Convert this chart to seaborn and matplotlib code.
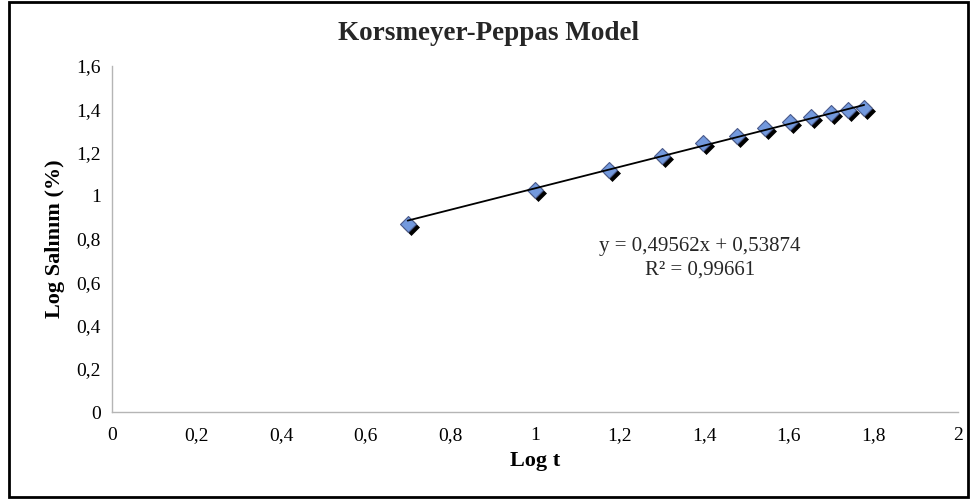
import numpy as np
import pandas as pd
import matplotlib
matplotlib.use("Agg")
import matplotlib.pyplot as plt
import matplotlib.transforms as mtransforms
from matplotlib.patches import Rectangle
from matplotlib.ticker import FuncFormatter, MultipleLocator
import seaborn as sns

# Korsmeyer-Peppas data: log of time vs log of cumulative release
log_t = [0.699, 1.000, 1.176, 1.301, 1.398, 1.477, 1.544, 1.602, 1.653, 1.699, 1.740, 1.778]
log_release = [0.868, 1.028, 1.120, 1.185, 1.243, 1.278, 1.313, 1.342, 1.362, 1.381, 1.395, 1.405]

# Linear trendline coefficients and fit quality
slope = 0.49562
intercept = 0.53874
r_squared = 0.99661

title = "Korsmeyer-Peppas Model"
x_label = "Log t"
y_label = "Log Salınım (%)"

df = pd.DataFrame({"log_t": log_t, "log_release": log_release})

sns.set_theme(style="white")
plt.rcParams["font.family"] = ["Liberation Serif", "DejaVu Serif"]

fig = plt.figure(figsize=(9.77, 4.99), dpi=100)
ax = fig.add_axes([0.1146, 0.1743, 0.866, 0.6934])

# drop shadow under each marker
shadow = mtransforms.offset_copy(ax.transData, fig=fig, x=3, y=-3, units="dots")
sns.scatterplot(data=df, x="log_t", y="log_release", ax=ax, marker="D", s=66,
                color="black", edgecolor="black", linewidth=0.5,
                transform=shadow, zorder=2, legend=False)
sns.scatterplot(data=df, x="log_t", y="log_release", ax=ax, marker="D", s=66,
                color="#7399dd", edgecolor="#4a5a8a", linewidth=0.8,
                zorder=3, legend=False)

# trendline from the stated regression equation
xs = np.array([min(log_t), max(log_t)])
ax.plot(xs, slope * xs + intercept, color="black", lw=1.3, zorder=4)

ax.text(1.39, 0.765,
        "y = {}x + {}".format(f"{slope:.5f}".replace(".", ","),
                               f"{intercept:.5f}".replace(".", ",")),
        ha="center", va="center", fontsize=15)
ax.text(1.39, 0.655, "R² = {}".format(f"{r_squared:.5f}".replace(".", ",")),
        ha="center", va="center", fontsize=15)

ax.set_xlim(0, 2)
ax.set_ylim(0, 1.6)
ax.xaxis.set_major_locator(MultipleLocator(0.2))
ax.yaxis.set_major_locator(MultipleLocator(0.2))
comma = FuncFormatter(lambda v, p: f"{v:.1f}".rstrip("0").rstrip(".").replace(".", ",") if abs(v) > 1e-9 else "0")
ax.xaxis.set_major_formatter(comma)
ax.yaxis.set_major_formatter(comma)
ax.tick_params(axis="x", length=0, labelsize=14, colors="black", pad=11)
ax.tick_params(axis="y", length=0, labelsize=14, colors="black", pad=8)

for side in ("top", "right"):
    ax.spines[side].set_visible(False)
for side in ("left", "bottom"):
    ax.spines[side].set_color("#b5b5b5")
    ax.spines[side].set_linewidth(1)

ax.set_xlabel(x_label, fontsize=16, fontweight="bold", labelpad=5, color="black")
ax.set_ylabel(y_label, fontsize=16, fontweight="bold", labelpad=8, color="black")
fig.text(0.50, 0.933, title, ha="center", va="center", fontsize=19.5, fontweight="bold")

# chart border
fig.patches.append(Rectangle((0.009, 0.005), 0.982, 0.99, transform=fig.transFigure,
                             fill=False, edgecolor="black", linewidth=2))

fig.savefig("out.png", dpi=100)
